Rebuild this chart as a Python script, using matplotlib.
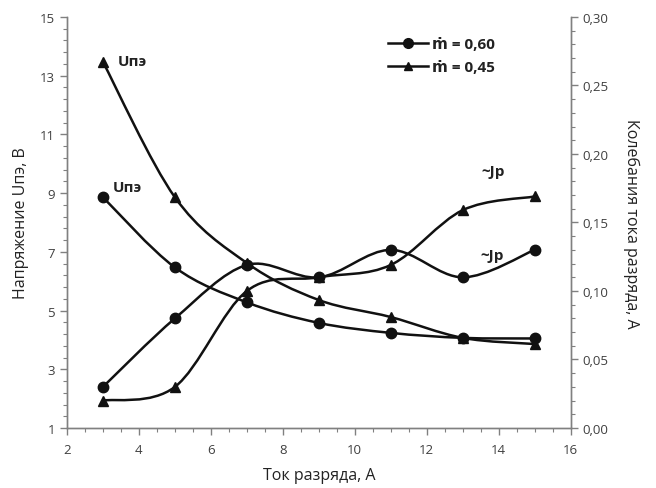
import matplotlib
matplotlib.use("Agg")
import numpy as np
import matplotlib.pyplot as plt
from matplotlib.path import Path
from matplotlib.patches import PathPatch
from matplotlib.ticker import MultipleLocator, FixedLocator, FuncFormatter
from matplotlib.lines import Line2D

plt.rcParams['font.family'] = ['Open Sans', 'DejaVu Sans']

# Data
current = [3, 5, 7, 9, 11, 13, 15]
u_060 = [8.86, 6.47, 5.28, 4.58, 4.24, 4.07, 4.05]
u_045 = [13.47, 8.86, 6.62, 5.36, 4.78, 4.07, 3.86]
j_060 = [0.030, 0.080, 0.119, 0.110, 0.130, 0.110, 0.130]
j_045 = [0.020, 0.030, 0.100, 0.110, 0.119, 0.159, 0.169]
legend_labels = ['ṁ = 0,60', 'ṁ = 0,45']
left_ticks = [1, 3, 5, 7, 9, 11, 13, 15]

LINE_C = '#111111'


def smooth_path(xs, ys):
    n = len(xs)
    verts = [(xs[0], ys[0])]
    codes = [Path.MOVETO]
    for i in range(n - 1):
        x0, y0 = (xs[i - 1], ys[i - 1]) if i > 0 else (xs[i], ys[i])
        x1, y1 = xs[i], ys[i]
        x2, y2 = xs[i + 1], ys[i + 1]
        x3, y3 = (xs[i + 2], ys[i + 2]) if i + 2 < n else (xs[i + 1], ys[i + 1])
        c1 = (x1 + (x2 - x0) / 6.0, y1 + (y2 - y0) / 6.0)
        c2 = (x2 - (x3 - x1) / 6.0, y2 - (y3 - y1) / 6.0)
        verts += [c1, c2, (x2, y2)]
        codes += [Path.CURVE4] * 3
    return Path(verts, codes)


fig = plt.figure(figsize=(6.56, 4.89), dpi=100)
ax = fig.add_axes([0.1021, 0.1227, 0.7677, 0.8405])
ax2 = ax.twinx()

for a, ys, mk, ms in [(ax, u_060, 'o', 7.5), (ax, u_045, '^', 6.5),
                      (ax2, j_060, 'o', 7.5), (ax2, j_045, '^', 6.5)]:
    a.add_patch(PathPatch(smooth_path(current, ys), fill=False,
                          edgecolor=LINE_C, lw=1.8, zorder=3))
    a.plot(current, ys, linestyle='none', marker=mk, ms=ms,
           color=LINE_C, zorder=4)

ax.set_xlim(2, 16)
ax.set_ylim(1, 15)
ax2.set_ylim(0, 0.30)

ax.xaxis.set_major_locator(MultipleLocator(2))
ax.xaxis.set_minor_locator(MultipleLocator(0.5))
ax.yaxis.set_major_locator(FixedLocator(left_ticks))
ax.yaxis.set_minor_locator(FixedLocator(np.linspace(1, 15, 36)))
ax2.yaxis.set_major_locator(MultipleLocator(0.05))
ax2.yaxis.set_minor_locator(MultipleLocator(0.01))
ax2.yaxis.set_major_formatter(FuncFormatter(lambda v, p: f"{v:.2f}".replace('.', ',')))

spine_c = '#808080'
for a in (ax, ax2):
    a.spines['top'].set_visible(False)
    for s in ('left', 'right', 'bottom'):
        a.spines[s].set_color(spine_c)
        a.spines[s].set_linewidth(1.0)
    a.tick_params(which='major', length=5, width=1.0, color=spine_c,
                  labelsize=9.5, labelcolor='#404040')
    a.tick_params(which='minor', length=3, width=0.8, color=spine_c)
ax.tick_params(axis='x', pad=6)

ax.set_xlabel('Ток разряда, А', fontsize=11.5, color='#222222', labelpad=8)
ax.set_ylabel('Напряжение Uпэ, В', fontsize=11.5, color='#222222', labelpad=8)
ax2.set_ylabel('Колебания тока разряда, А', fontsize=11.5, color='#222222',
               rotation=-90, labelpad=22)

ax.text(3.41, 13.5, 'Uпэ', fontsize=11, fontweight='bold', color='#222222',
        va='center', ha='left')
ax.text(3.28, 9.2, 'Uпэ', fontsize=11, fontweight='bold', color='#222222',
        va='center', ha='left')
ax.text(13.53, 9.75, '~Jp', fontsize=11, fontweight='bold', color='#222222',
        va='center', ha='left')
ax.text(13.48, 6.9, '~Jp', fontsize=11, fontweight='bold', color='#222222',
        va='center', ha='left')

handles = [Line2D([], [], color=LINE_C, lw=1.8, marker='o', ms=7),
           Line2D([], [], color=LINE_C, lw=1.8, marker='^', ms=6)]
leg = ax.legend(handles, legend_labels, loc='upper left',
                bbox_to_anchor=(0.61, 0.985), frameon=False,
                prop={'size': 11, 'weight': 'bold'}, handlelength=2.6,
                labelspacing=0.6, handletextpad=0.3)
for t in leg.get_texts():
    t.set_color('#222222')

fig.savefig('out.png', dpi=100)
